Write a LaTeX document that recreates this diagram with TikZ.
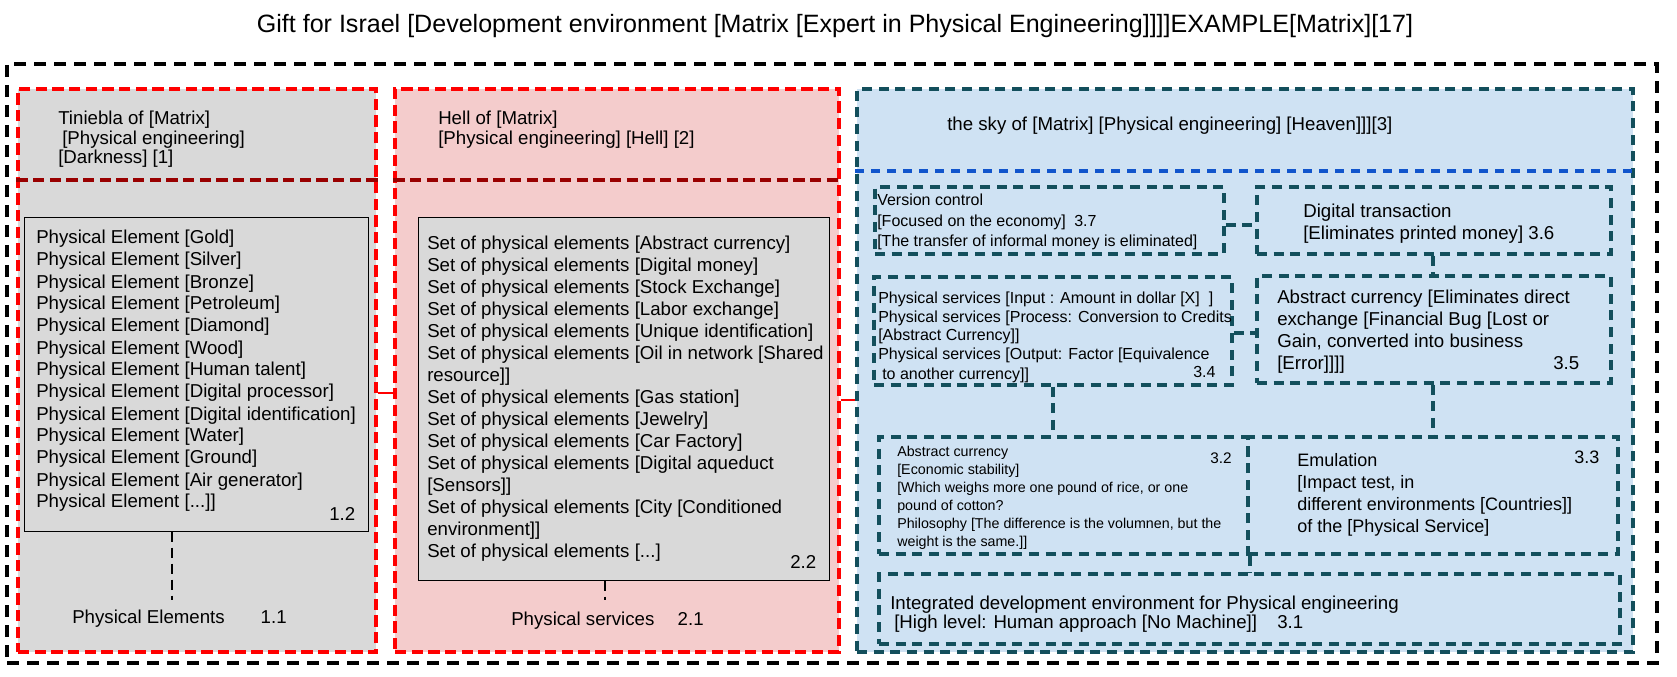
\documentclass[tikz,border=0pt]{standalone}
\usepackage{fontspec}
\setmainfont{Liberation Sans}
\usetikzlibrary{fit}
\definecolor{pgray}{HTML}{D9D9D9}
\definecolor{ppink}{HTML}{F4CCCC}
\definecolor{pblue}{HTML}{CFE2F3}
\definecolor{pred}{HTML}{FF0000}
\definecolor{pdred}{HTML}{990000}
\definecolor{pteal}{HTML}{134F5C}
\definecolor{pbsep}{HTML}{1155CC}
\newcommand{\tl}[1]{\begin{tabular}[t]{@{}l@{}}#1\end{tabular}}
\tikzset{
  outerbox/.style={draw=black, line width=2.6pt, dash pattern=on 9pt off 6pt, inner sep=0pt},
  redpanel/.style={draw=pred, line width=2.3pt, dash pattern=on 8.5pt off 4pt, inner sep=0pt},
  sepline/.style={draw=pdred, line width=2.5pt, dash pattern=on 8.5pt off 4pt},
  bluesep/.style={draw=pbsep, line width=2.3pt, dash pattern=on 6.5pt off 5.5pt},
  tealbox/.style={draw=pteal, line width=2.3pt, dash pattern=on 7.5pt off 5pt, inner sep=0pt},
  tealline/.style={draw=pteal, line width=2.3pt, dash pattern=on 7.5pt off 5pt},
  listbox/.style={draw=black, line width=0.75pt, fill=pgray, inner sep=0pt},
  blackconn/.style={draw=black, line width=2.2pt, dash pattern=on 8pt off 4pt},
  redline/.style={draw=pred, line width=1.6pt},
  txt/.style={anchor=base west, inner sep=0pt, font=\fontsize{14}{16.5}\selectfont},
}
\begin{document}
\begin{tikzpicture}[x=0.75pt,y=-0.75pt]
\useasboundingbox (0,0) rectangle (1677,677);

% title
\node[anchor=base, inner sep=0pt, font=\fontsize{18.8}{22}\selectfont] (title) at (835,32.5)
  {Gift for Israel [Development environment [Matrix [Expert in Physical Engineering]]]]EXAMPLE[Matrix][17]};

% outer frame and panels
\node[outerbox, fit={(7,64) (1657,663)}] (outer) {};
\node[redpanel, fill=pgray, fit={(18,89) (376,652)}] (p1) {};
\node[redpanel, fill=ppink, fit={(395,89) (839,652)}] (p2) {};
\node[tealbox, fill=pblue, fit={(857,89) (1633,652)}] (p3) {};

% separators
\coordinate (s1) at (0,180);
\draw[sepline] (p1.west |- s1) -- (p1.east |- s1);
\draw[sepline] (p2.west |- s1) -- (p2.east |- s1);
\coordinate (s3) at (0,171);
\draw[bluesep] (p3.west |- s3) -- (p3.east |- s3);

% panel 1
\node[txt, font=\fontsize{14}{14.25}\selectfont] (h1) at (58,125)
  {\tl{Tiniebla of [Matrix]\\\hspace*{3pt}[Physical engineering]\\{}[Darkness] [1]}};
\node[listbox, fit={(24,218) (368,531)}] (l1) {};
\node[txt] (l1t) at (36,244) {\tl{Physical Element [Gold]\\
Physical Element [Silver]\\
Physical Element [Bronze]\\
Physical Element [Petroleum]\\
Physical Element [Diamond]\\
Physical Element [Wood]\\
Physical Element [Human talent]\\
Physical Element [Digital processor]\\
Physical Element [Digital identification]\\
Physical Element [Water]\\
Physical Element [Ground]\\
Physical Element [Air generator]\\
Physical Element [...]]}};
\node[txt] (n12) at (329,520) {1.2};
\node[txt] (pe) at (72,623.5) {Physical Elements\hspace{27pt}1.1};
\coordinate (c1) at (172,600);
\draw[blackconn] (l1.south -| c1) -- (c1);

% panel 2
\node[txt, font=\fontsize{14}{14.25}\selectfont] (h2) at (438,125)
  {\tl{Hell of [Matrix]\\{}[Physical engineering] [Hell] [2]}};
\node[listbox, fit={(418,218) (829,580)}] (l2) {};
\node[txt] (l2t) at (427,250) {\tl{Set of physical elements [Abstract currency]\\
Set of physical elements [Digital money]\\
Set of physical elements [Stock Exchange]\\
Set of physical elements [Labor exchange]\\
Set of physical elements [Unique identification]\\
Set of physical elements [Oil in network [Shared\\
resource]]\\
Set of physical elements [Gas station]\\
Set of physical elements [Jewelry]\\
Set of physical elements [Car Factory]\\
Set of physical elements [Digital aqueduct\\
{}[Sensors]]\\
Set of physical elements [City [Conditioned\\
environment]]\\
Set of physical elements [...]}};
\node[txt] (n22) at (790,568.5) {2.2};
\node[txt] (ps) at (511,625.5) {Physical services\hspace{17.5pt}2.1};
\coordinate (c2) at (605,600);
\draw[blackconn] (l2.south -| c2) -- (c2);

% panel 3
\node[txt] (h3) at (947,130.5) {the sky of [Matrix] [Physical engineering] [Heaven]]][3]};

\node[tealbox, fit={(875,187) (1224,254)}] (b37) {};
\node[tealbox, fit={(1257,187) (1611,254)}] (b36) {};
\node[tealbox, fit={(874,277) (1232,385)}] (b34) {};
\node[tealbox, fit={(1257,276) (1611,383)}] (b35) {};
\node[tealbox, fit={(879,437) (1248,554)}] (b32) {};
\node[tealbox, fit={(1248,437) (1618,554)}] (b33) {};
\node[tealbox, fit={(879,574) (1620,644)}] (b31) {};

\node[txt, font=\fontsize{12}{15.4}\selectfont] (t37) at (877,205.5)
  {\tl{Version control\\{}[Focused on the economy]\\{}[The transfer of informal money is eliminated]}};
\node[txt, font=\fontsize{12}{15.4}\selectfont] (n37) at (1074,226.5) {3.7};

\node[txt, font=\fontsize{14}{16.5}\selectfont] (t36) at (1303,217.5)
  {\tl{Digital transaction\\{}[Eliminates printed money] 3.6}};

\node[txt, font=\fontsize{12}{14.25}\selectfont] (t34) at (878,303)
  {\tl{Physical services [Input : Amount in dollar [X]\ \ ]\\
Physical services [Process: Conversion to Credits\\
{}[Abstract Currency]]\\
Physical services [Output: Factor [Equivalence\\
\hspace*{3pt}to another currency]]}};
\node[txt, font=\fontsize{12}{14.25}\selectfont] (n34) at (1193,377) {3.4};

\node[txt] (t35) at (1277,303.5)
  {\tl{Abstract currency [Eliminates direct\\
exchange [Financial Bug [Lost or\\
Gain, converted into business\\
{}[Error]]]]}};
\node[txt] (n35) at (1553,369.5) {3.5};

\node[txt, font=\fontsize{10.7}{13.5}\selectfont] (t32) at (897,456)
  {\tl{Abstract currency\\
{}[Economic stability]\\
{}[Which weighs more one pound of rice, or one\\
pound of cotton?\\
Philosophy [The difference is the volumnen, but the\\
weight is the same.]]}};
\node[txt, font=\fontsize{11.5}{13.5}\selectfont] (n32) at (1210,463) {3.2};

\node[txt, font=\fontsize{13.5}{16.5}\selectfont] (t33) at (1297,466.5)
  {\tl{Emulation\\
{}[Impact test, in\\
different environments [Countries]]\\
of the [Physical Service]}};
\node[txt, font=\fontsize{13.5}{16.5}\selectfont] (n33) at (1574,463) {3.3};

\node[txt, font=\fontsize{14}{14.25}\selectfont] (t31) at (890,609.5)
  {\tl{Integrated development environment for Physical engineering\\
\hspace*{3pt}[High level: Human approach [No Machine]]}};
\node[txt] (n31) at (1277,628.5) {3.1};

% connectors in panel 3
\coordinate (k1) at (0,225);
\draw[tealline] (b37.east |- k1) -- (b36.west |- k1);
\coordinate (k2) at (1433,0);
\draw[tealline] (b36.south -| k2) -- (b35.north -| k2);
\coordinate (k3) at (0,333);
\draw[tealline] (b34.east |- k3) -- (b35.west |- k3);
\coordinate (k4) at (1053,0);
\draw[tealline] (b34.south -| k4) -- (b32.north -| k4);
\draw[tealline] (b35.south -| k2) -- (b33.north -| k2);
\coordinate (k5) at (1250,0);
\draw[tealline] (b33.south -| k5) -- (b31.north -| k5);

% red connectors between panels
\coordinate (r12) at (0,393);
\draw[redline] (p1.east |- r12) -- (p2.west |- r12);
\coordinate (r23) at (0,400);
\draw[redline] (p2.east |- r23) -- (p3.west |- r23);
\end{tikzpicture}
\end{document}
